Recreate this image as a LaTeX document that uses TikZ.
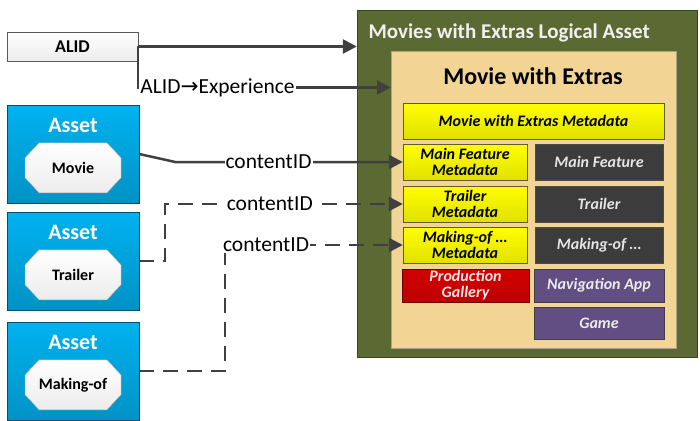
\documentclass[tikz,border=0pt]{standalone}
\usepackage{fontspec}
\setmainfont{Carlito}
\newfontfamily\symfont{DejaVu Sans}
\usetikzlibrary{arrows.meta}
\definecolor{assetblue}{RGB}{0,178,240}
\definecolor{lagreen}{RGB}{91,106,51}
\definecolor{boxtan}{RGB}{242,213,148}
\definecolor{essdark}{RGB}{60,60,60}
\definecolor{galred}{RGB}{210,0,0}
\definecolor{apppurple}{RGB}{98,78,130}
\definecolor{linegray}{RGB}{64,64,64}
\tikzset{
  alidbox/.style={draw=gray!70!black, top color=white, bottom color=gray!15,
    minimum width=131pt, minimum height=29pt, font=\fontsize{18}{20}\selectfont\bfseries},
  assetbox/.style={draw=assetblue!45!black, top color=assetblue, bottom color=assetblue!82!black,
    minimum width=132pt, minimum height=98pt},
  assetlbl/.style={text=white, font=\fontsize{22}{24}\selectfont\bfseries},
  octo/.style={draw=gray!70, top color=white, bottom color=gray!15},
  octolbl/.style={font=\fontsize{16}{18}\selectfont\bfseries},
  metabox/.style={draw=olive!60!black, top color=yellow, bottom color=yellow!88!black,
    minimum width=124pt, minimum height=36pt, inner sep=1pt, align=center,
    font=\fontsize{16}{16}\selectfont\bfseries\itshape},
  essbox/.style={draw=gray!60!black, fill=essdark, text=white!90!black,
    minimum width=128pt, minimum height=36pt, font=\fontsize{16}{18}\selectfont\bfseries\itshape},
  appbox/.style={draw=gray!50!black, fill=apppurple, text=white!92!black,
    minimum width=130pt, minimum height=33pt, font=\fontsize{16}{18}\selectfont\bfseries\itshape},
  conn/.style={draw=linegray, line width=2.5pt, -{Triangle[length=14pt,width=14pt]}},
  lbl/.style={fill=white, inner sep=1pt, font=\fontsize{21.5}{24}\selectfont},
  dashedconn/.style={conn, dash pattern=on 15pt off 9pt},
}

\begin{document}
\begin{tikzpicture}[x=1pt,y=-1pt]
  \useasboundingbox[fill=white] (0,0) rectangle (700,420);

  % logical asset
  \node[draw=lagreen!65!black, fill=lagreen, minimum width=340pt, minimum height=347pt] (la) at (527,183.5) {};
  \node[anchor=west, text=white!94!black, font=\fontsize{21}{24}\selectfont\bfseries] (latitle) at (365,33) {Movies with Extras Logical Asset};
  \node[draw=gray!60!boxtan, fill=boxtan, minimum width=285pt, minimum height=297pt] (mwe) at (533.5,199.5) {};
  \node[font=\fontsize{24}{26}\selectfont\bfseries] (mwetitle) at (533,76) {Movie with Extras};

  \node[metabox, minimum width=261pt] (mwemeta) at (533.5,121) {Movie with Extras Metadata};
  \node[metabox] (mfmeta) at (465,162) {Main Feature\\Metadata};
  \node[essbox] (mf) at (599,162) {Main Feature};
  \node[metabox] (trmeta) at (465,204) {Trailer\\Metadata};
  \node[essbox] (tr) at (599,204) {Trailer};
  \node[metabox] (mometa) at (465,245) {Making-of \dots\\Metadata};
  \node[essbox] (mo) at (599,245) {Making-of \dots};
  \node[metabox, draw=galred!50!black, top color=galred, bottom color=galred!90!black, text=white!90!red,
    minimum width=127pt, minimum height=33pt] (gallery) at (465.5,285.5) {Production\\Gallery};
  \node[appbox] (nav) at (599,285.5) {Navigation App};
  \node[appbox, minimum height=32pt] (game) at (599,323) {Game};

  % ALID and assets
  \node[alidbox] (alid) at (72.5,46.5) {ALID};
  \foreach \name/\y/\txt in {movie/154/Movie, trailer/261/Trailer, makingof/371/Making-of}{
    \node[assetbox] (\name box) at (73,\y) {};
    \node[assetlbl] at ([yshift=-21pt]\name box.north) {Asset};
    \coordinate (c) at ([yshift=-63pt]\name box.north);
    \draw[octo] ([shift={(-48,-10)}]c) -- ([shift={(-34,-25)}]c) -- ([shift={(34,-25)}]c)
      -- ([shift={(48,-10)}]c) -- ([shift={(48,10)}]c) -- ([shift={(34,25)}]c)
      -- ([shift={(-34,25)}]c) -- ([shift={(-48,10)}]c) -- cycle;
    \node[octolbl] (\name) at (c) {\txt};
  }

  % connectors
  \coordinate (alidturn) at ([yshift=-41pt]alid.east);
  \draw[conn] (alid.east) -- (la.west |- alid.east);
  \draw[conn] (alid.east) -- (alidturn) -- node[lbl, anchor=west, pos=0]{ALID{\symfont →}Experience} (mwe.west |- alidturn);
  \draw[conn] (moviebox.east) -- ++(36,8) -- node[lbl, pos=0.41]{contentID} (mfmeta.west);
  \draw[dashedconn] (trailerbox.east) -- ++(26,0) |- node[lbl, pos=0.72]{contentID} (trmeta.west);
  \draw[dashedconn] (makingofbox.east) -- ++(86,0) |- node[lbl, pos=0.615]{contentID} (mometa.west);
\end{tikzpicture}
\end{document}
